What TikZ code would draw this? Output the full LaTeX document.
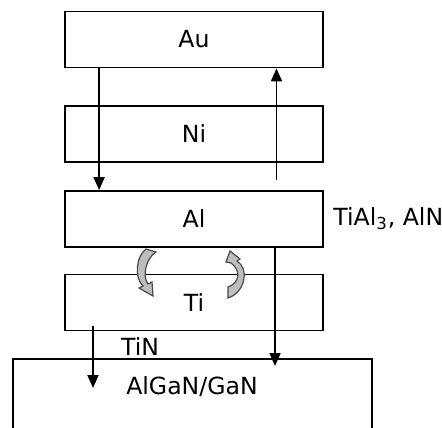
\documentclass[tikz,border=0pt]{standalone}
\usepackage{fontspec}
\setmainfont{DejaVu Sans}
\definecolor{swirlGray}{HTML}{BDBDBD}
\definecolor{swirlEdge}{HTML}{4A4A4A}
\usetikzlibrary{arrows.meta, calc}

\begin{document}
\begin{tikzpicture}[x=0.5pt, y=-0.5pt,
  layer/.style={draw, line width=0.9pt, minimum width=129pt, minimum height=28pt,
                inner sep=0pt, font=\fontsize{11.8}{14}\selectfont},
  flow/.style={-{Triangle[length=6.5pt, width=5.5pt]}, line width=0.9pt},
  swirl/.style={draw=swirlEdge, fill=swirlGray, line width=0.6pt},
  lbl/.style={font=\fontsize{11.8}{14}\selectfont, inner sep=0pt}]
  \clip (0,0) rectangle (442,427);
  \node[layer] (au) at (194,39.5)  {Au};
  \node[layer] (ni) at (194,134)   {Ni};
  \node[layer] (al) at (194,219)   {Al};
  \node[layer] (ti) at (194,302.5) {Ti};
  \node[layer, minimum width=179.5pt, minimum height=60pt] (gan) at (192.5,419) {};
  \node[lbl] (ganlbl) at (192,387) {AlGaN/GaN};
  \node[lbl, anchor=west] (tial) at (333,219) {TiAl\textsubscript{3}, AlN};
  \node[lbl] (tin) at (140,347) {TiN};
  \coordinate (upfoot) at (276.5,180);
  \coordinate (altip) at (275,366);
  \coordinate (tifoot) at (93,326);
  \coordinate (titip) at (93,388);
  \draw[flow] ($(au.south west)+(35,0)$) -- ($(al.north west)+(35,0)$);
  \draw[flow] (upfoot) -- (upfoot |- au.south);
  \draw[flow] (al.south -| altip) -- (altip);
  \draw[flow] (tifoot) -- (titip);
  \draw[swirl] (146,249) -- (156,252) .. controls (146,258) and (142,276) .. (148,284)
    -- (152,282) -- (153,296) -- (139,288) -- (143,286)
    .. controls (134,278) and (136,256) .. (146,249) -- cycle;
  \draw[swirl] (230,251) -- (240,259) -- (237,261)
    .. controls (249,268) and (246,292) .. (228,298) -- (228,287)
    .. controls (240,283) and (241,270) .. (231,263) -- (226,262) -- cycle;
\end{tikzpicture}
\end{document}
